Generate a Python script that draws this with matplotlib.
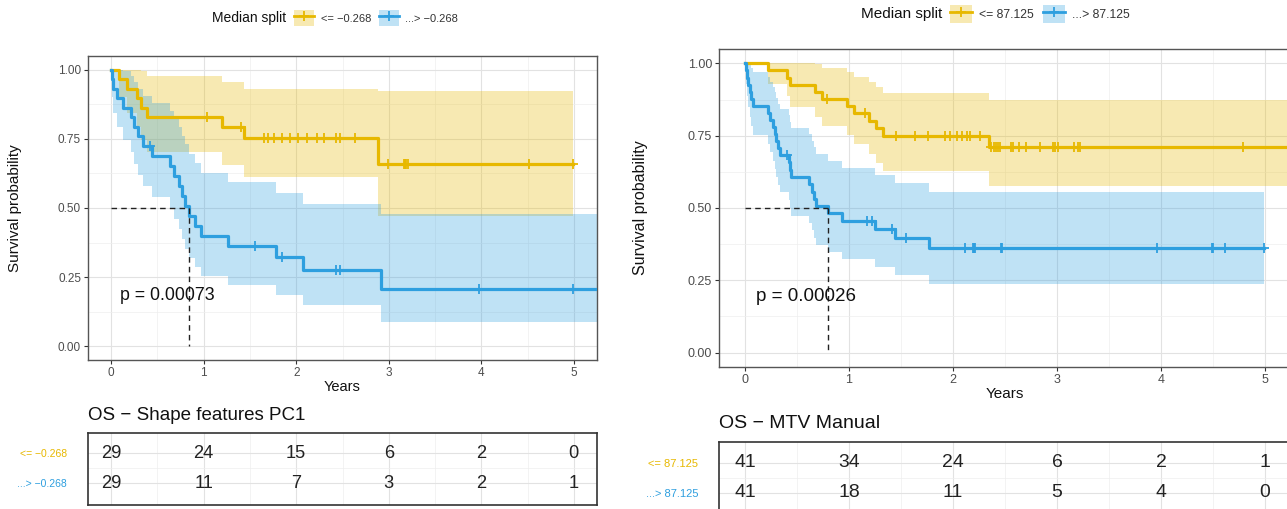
import numpy as np
import matplotlib
matplotlib.use("Agg")
import matplotlib.pyplot as plt
from matplotlib.lines import Line2D
from matplotlib.patches import Patch
from matplotlib.ticker import MultipleLocator, FormatStrFormatter

plt.rcParams['font.family'] = ['Liberation Sans', 'DejaVu Sans']

GOLD = "#E7B800"
BLUE = "#2E9FDF"

# ---- left panel: OS - Shape features PC1 ----
pc1_low_time = [0, 0.08, 0.17, 0.28, 0.32, 0.39, 1.20, 1.44, 2.88]
pc1_low_surv = [1, .966, .931, .897, .862, .828, .792, .754, .660]
pc1_low_upper = [1, 1, 1, 1, .997, .977, .955, .931, .923]
pc1_low_lower = [1, .901, .843, .792, .745, .701, .656, .611, .471]
pc1_low_censor = [1.04, 1.40, 1.65, 1.70, 1.76, 1.85, 1.93, 2.02, 2.12, 2.22,
                  2.30, 2.43, 2.47, 2.64, 2.99, 3.16, 3.18, 3.19, 3.21, 4.51, 4.99]
pc1_low_end = 4.99

pc1_high_time = [0, 0.01, 0.02, 0.06, 0.13, 0.21, 0.25, 0.29, 0.34, 0.44, 0.64,
                 0.68, 0.73, 0.77, 0.80, 0.84, 0.91, 0.97, 1.26, 1.78, 2.07, 2.92]
pc1_high_surv = [1, .966, .931, .897, .862, .828, .793, .759, .724, .688, .652,
                 .616, .579, .543, .507, .471, .435, .398, .362, .322, .276, .207]
pc1_high_upper = [1, 1, 1, 1, .997, .977, .955, .932, .907, .880, .852,
                  .823, .793, .762, .730, .697, .663, .628, .593, .555, .514, .480]
pc1_high_lower = [1, .901, .843, .792, .745, .701, .659, .618, .578, .538, .499,
                  .460, .423, .387, .352, .318, .285, .253, .221, .187, .148, .089]
pc1_high_censor = [0.42, 1.55, 1.85, 2.43, 2.47, 3.97, 4.99]
pc1_high_end = 5.6

# ---- right panel: OS - MTV Manual ----
mtv_low_time = [0, 0.22, 0.40, 0.43, 0.67, 0.74, 0.98, 1.05, 1.19, 1.26, 1.33, 2.35]
mtv_low_surv = [1, .976, .951, .927, .902, .878, .853, .828, .802, .776, .750, .711]
mtv_low_upper = [1, 1, 1, 1, .998, .984, .969, .952, .935, .917, .897, .875]
mtv_low_lower = [1, .930, .888, .850, .816, .783, .751, .720, .688, .657, .627, .577]
mtv_low_censor = [0.785, 1.15, 1.45, 1.63, 1.76, 1.92, 1.97, 2.04, 2.09, 2.13,
                  2.16, 2.26, 2.37, 2.39, 2.41, 2.43, 2.45, 2.56, 2.58, 2.63,
                  2.70, 2.84, 2.96, 2.98, 3.01, 3.16, 3.20, 3.22, 4.79]
mtv_low_end = 5.6

mtv_high_time = [0, 0.01, 0.02, 0.03, 0.05, 0.06, 0.08, 0.22, 0.24, 0.27, 0.29,
                 0.30, 0.32, 0.34, 0.42, 0.43, 0.44, 0.62, 0.64, 0.66, 0.68,
                 0.80, 0.93, 1.25, 1.44, 1.77]
mtv_high_surv = [1, .976, .951, .927, .902, .878, .854, .829, .805, .780, .756,
                 .732, .707, .683, .658, .632, .607, .582, .557, .531, .506,
                 .481, .455, .427, .396, .363]
mtv_high_upper = [1, 1, 1, 1, .998, .984, .969, .953, .936, .918, .900,
                  .881, .861, .841, .821, .799, .778, .756, .733, .710, .687,
                  .663, .639, .613, .585, .556]
mtv_high_lower = [1, .930, .888, .850, .816, .783, .752, .722, .692, .664, .635,
                  .608, .581, .554, .527, .500, .474, .448, .423, .397, .373,
                  .348, .325, .297, .268, .237]
mtv_high_censor = [0.40, 1.17, 1.22, 1.41, 1.55, 2.12, 2.19, 2.20, 2.21, 2.46,
                   2.47, 3.96, 4.49, 4.50, 4.62, 4.99]
mtv_high_end = 4.99

# ---- numbers at risk ----
risk_years = [0, 1, 2, 3, 4, 5]
pc1_low_risk = [29, 24, 15, 6, 2, 0]
pc1_high_risk = [29, 11, 7, 3, 2, 1]
mtv_low_risk = [41, 34, 24, 6, 2, 1]
mtv_high_risk = [41, 18, 11, 5, 4, 0]

W, H = 1287, 509


def px_box(left, top, right, bottom):
    return [left / W, 1 - bottom / H, (right - left) / W, (bottom - top) / H]


def draw_km(ax, time, surv, lower, upper, end, censor, color, lw):
    t = np.append(time, end)
    s = np.append(surv, surv[-1])
    lo = np.append(lower, lower[-1])
    up = np.append(upper, upper[-1])
    ax.fill_between(t, lo, up, step='post', color=color, alpha=0.3, lw=0)
    ax.step(t, s, where='post', color=color, lw=lw, zorder=3)
    idx = np.searchsorted(time, censor, side='right') - 1
    ax.plot(censor, np.array(surv)[idx], ls='none', marker='+', ms=7, mew=1.3,
            color=color, zorder=4)


def median_time(time, surv):
    time = np.array(time)
    return time[np.argmax(np.array(surv) <= 0.5)]


def style_axes(ax, fs):
    ax.set_xlim(-0.25, 5.25)
    ax.xaxis.set_major_locator(MultipleLocator(1))
    ax.xaxis.set_minor_locator(MultipleLocator(0.5))
    ax.grid(which='major', color='#E2E2E2', lw=0.8)
    ax.grid(which='minor', color='#EEEEEE', lw=0.5)
    ax.set_axisbelow(True)
    ax.tick_params(which='minor', length=0)
    ax.tick_params(which='major', length=3, pad=2, color='#333333',
                   labelcolor='#4D4D4D', labelsize=fs)
    for sp in ax.spines.values():
        sp.set_color('#555555')
        sp.set_linewidth(1.0)


def survival_panel(fig, box, low, high, pval, ptext_xy, fs):
    ax = fig.add_axes(box)
    style_axes(ax, fs)
    ax.set_ylim(-0.05, 1.05)
    ax.yaxis.set_major_locator(MultipleLocator(0.25))
    ax.yaxis.set_minor_locator(MultipleLocator(0.125))
    ax.yaxis.set_major_formatter(FormatStrFormatter('%.2f'))
    med = median_time(high[0], high[1])
    ax.plot([0, med], [0.5, 0.5], color='#222222', ls=(0, (4, 3)), lw=1.0, zorder=5)
    ax.plot([med, med], [0.5, 0], color='#222222', ls=(0, (4, 3)), lw=1.0, zorder=5)
    draw_km(ax, *low, GOLD, 2.3)
    draw_km(ax, *high, BLUE, 2.3)
    ax.text(ptext_xy[0], ptext_xy[1], pval, fontsize=fs * 1.5, va='center',
            color='#111111', zorder=6)
    return ax


def risk_table(fig, box, ylim, low_risk, high_risk, labels, fs, lab_fs):
    tab = fig.add_axes(box)
    style_axes(tab, fs)
    tab.set_ylim(*ylim)
    tab.set_yticks([2, 1])
    tab.set_yticks([1.5], minor=True)
    tab.set_yticklabels(labels, fontsize=lab_fs)
    tab.get_yticklabels()[0].set_color(GOLD)
    tab.get_yticklabels()[1].set_color(BLUE)
    tab.tick_params(axis='y', length=0, pad=15)
    tab.tick_params(axis='x', length=0, labelbottom=False)
    for sp in tab.spines.values():
        sp.set_color('#333333')
        sp.set_linewidth(1.2)
    for yr, a, b in zip(risk_years, low_risk, high_risk):
        tab.text(yr, 2, str(a), ha='center', va='center', fontsize=fs * 1.55, color='#222222')
        tab.text(yr, 1, str(b), ha='center', va='center', fontsize=fs * 1.55, color='#222222')
    return tab


def add_legend(fig, x_title, y, labels, fs):
    fig.text(x_title / W, 1 - y / H, 'Median split', ha='right', va='center',
             fontsize=fs * 1.25, color='#111111')
    handles = [(Patch(facecolor=c, alpha=0.3, edgecolor='none'),
                Line2D([], [], color=c, lw=2, marker='+', ms=7, mew=1.3))
               for c in (GOLD, BLUE)]
    fig.legend(handles, labels, loc='center left',
               bbox_to_anchor=((x_title + 8) / W, 1 - y / H), ncol=2,
               frameon=False, fontsize=fs, handlelength=1.8, handleheight=1.8,
               handletextpad=0.6, columnspacing=0.7, borderpad=0,
               borderaxespad=0, labelcolor='#333333')


fig = plt.figure(figsize=(W / 100, H / 100), dpi=100)

# left panel
survival_panel(fig, px_box(88, 56, 597, 360),
               (pc1_low_time, pc1_low_surv, pc1_low_lower, pc1_low_upper,
                pc1_low_end, pc1_low_censor),
               (pc1_high_time, pc1_high_surv, pc1_high_lower, pc1_high_upper,
                pc1_high_end, pc1_high_censor),
               'p = 0.00073', (0.1, 0.185), 8.5)
fig.text(15 / W, 1 - 208 / H, 'Survival probability', rotation=90,
         ha='center', va='center', fontsize=11, color='#111111')
fig.text(342 / W, 1 - 387 / H, 'Years', ha='center', va='center',
         fontsize=10.5, color='#111111')
add_legend(fig, 286, 18, ['<= \u22120.268', '...> \u22120.268'], 8)
fig.text(88 / W, 1 - 415 / H, 'OS \u2212 Shape features PC1', ha='left',
         va='center', fontsize=13.5, color='#111111')
risk_table(fig, px_box(88, 433, 597, 505), (0.28, 2.67),
           pc1_low_risk, pc1_high_risk, ['<= \u22120.268', '...> \u22120.268'],
           8.5, 7.5)

# right panel
survival_panel(fig, px_box(719, 49, 1291, 367),
               (mtv_low_time, mtv_low_surv, mtv_low_lower, mtv_low_upper,
                mtv_low_end, mtv_low_censor),
               (mtv_high_time, mtv_high_surv, mtv_high_lower, mtv_high_upper,
                mtv_high_end, mtv_high_censor),
               'p = 0.00026', (0.11, 0.195), 9)
fig.text(640 / W, 1 - 208 / H, 'Survival probability', rotation=90,
         ha='center', va='center', fontsize=11.5, color='#111111')
fig.text(1005 / W, 1 - 394 / H, 'Years', ha='center', va='center',
         fontsize=11, color='#111111')
add_legend(fig, 942, 14, ['<= 87.125', '...> 87.125'], 8.8)
fig.text(719 / W, 1 - 424 / H, 'OS \u2212 MTV Manual', ha='left',
         va='center', fontsize=14, color='#111111')
risk_table(fig, px_box(719, 442, 1291, 515), (0.25, 2.7),
           mtv_low_risk, mtv_high_risk, ['<= 87.125', '...> 87.125'],
           9, 8)

fig.savefig('out.png', dpi=100)
